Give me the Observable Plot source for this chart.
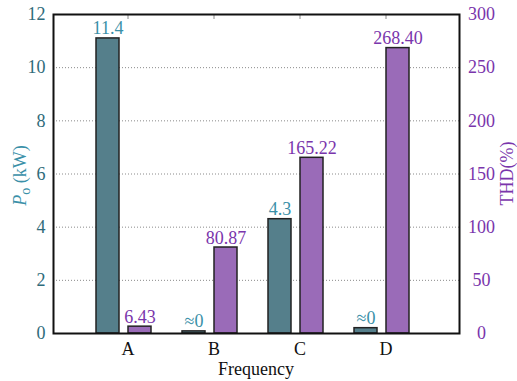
<!DOCTYPE html>
<html><head><meta charset="utf-8">
<script src="https://cdn.jsdelivr.net/npm/d3@7"></script>
<script src="https://cdn.jsdelivr.net/npm/@observablehq/plot@0.6"></script>
<style>
body{margin:0;background:#fff}
#chart svg, #chart svg text{font-family:"Liberation Serif","DejaVu Serif",serif !important;}
</style>
</head><body><div id="chart"></div>
<script>
const categories = ["A", "B", "C", "D"];
const poValues = [11.1, 0.08, 4.3, 0.2];
const poLabels = ["11.4", "≈0", "4.3", "≈0"];
const thdValues = [6.43, 80.87, 165.22, 268.40];
const thdLabels = ["6.43", "80.87", "165.22", "268.40"];
const leftTicks = [0, 2, 4, 6, 8, 10, 12];
const rightTicks = [0, 50, 100, 150, 200, 250, 300];
const ratio = rightTicks[rightTicks.length - 1] / leftTicks[leftTicks.length - 1];

const data = categories.map((c, i) => ({
  cat: c, po: poValues[i], poLabel: poLabels[i],
  thd: thdValues[i], thdScaled: thdValues[i] / ratio, thdLabel: thdLabels[i]
}));

const teal = "#557f8b", purple = "#9a6bb8";
const tealText = "#3a90a8", purpleText = "#7a35ac", tealTick = "#2f6b7a";
const W = 517, H = 381, mL = 53, mR = 58, mT = 14, mB = 48;
const ff = "'Liberation Serif', 'DejaVu Serif', serif";

const chart = Plot.plot({
  width: W, height: H,
  marginLeft: mL, marginRight: mR, marginTop: mT, marginBottom: mB,
  style: {fontFamily: ff, fontSize: "18px", background: "white", color: "#111"},
  x: {type: "band", domain: categories, paddingInner: 0.734, paddingOuter: 0.718},
  y: {domain: [0, 12]},
  marks: [
    Plot.gridY(leftTicks.slice(1, -1), {stroke: "#8a8a8a", strokeOpacity: 1, strokeDasharray: "1,2"}),
    Plot.barY(data, {x: "cat", y: "po", fill: teal, stroke: "#222", strokeWidth: 1.5, dx: -20}),
    Plot.barY(data, {x: "cat", y: "thdScaled", fill: purple, stroke: "#222", strokeWidth: 1.5, dx: 12}),
    Plot.text(data, {x: "cat", y: "po", text: "poLabel", dx: -20, dy: -4, lineAnchor: "bottom", fill: tealText, fontSize: 18}),
    Plot.text(data, {x: "cat", y: "thdScaled", text: "thdLabel", dx: 12, dy: -4, lineAnchor: "bottom", fill: purpleText, fontSize: 18}),
    Plot.axisY({anchor: "left", ticks: leftTicks, tickSize: 0, tickPadding: 8, label: null, fill: tealTick}),
    Plot.axisY({anchor: "right", ticks: leftTicks, tickFormat: d => String(d * ratio), tickSize: 0, tickPadding: 22, textAnchor: "middle", label: null, fill: purpleText}),
    Plot.axisX({anchor: "bottom", tickSize: 0, tickPadding: 9, label: null, fill: "#111"}),
    Plot.axisX({anchor: "top", tickSize: -4, tickFormat: () => "", label: null, stroke: "#888"}),
    Plot.frame({stroke: "#111", strokeWidth: 2})
  ]
});
document.getElementById("chart").appendChild(chart);

const svg = d3.select(chart);
svg.selectAll("text").attr("font-family", ff);
const cy = (mT + H - mB) / 2;
const lt = svg.append("text")
  .attr("transform", `translate(26,${cy + 2}) rotate(-90)`)
  .attr("text-anchor", "middle").attr("fill", tealText)
  .attr("font-family", ff).attr("font-size", 18);
lt.append("tspan").attr("font-style", "italic").text("P");
lt.append("tspan").attr("font-size", 14).attr("dy", 4).text("o");
lt.append("tspan").attr("dy", -4).text(" (kW)");

svg.append("text")
  .attr("transform", `translate(513,${cy}) rotate(-90)`)
  .attr("text-anchor", "middle").attr("fill", purpleText)
  .attr("font-family", ff).attr("font-size", 18)
  .text("THD(%)");

svg.append("text")
  .attr("x", (mL + W - mR) / 2).attr("y", 375)
  .attr("text-anchor", "middle").attr("fill", "#111")
  .attr("font-family", ff).attr("font-size", 18)
  .text("Frequency");
</script>
</body></html>
